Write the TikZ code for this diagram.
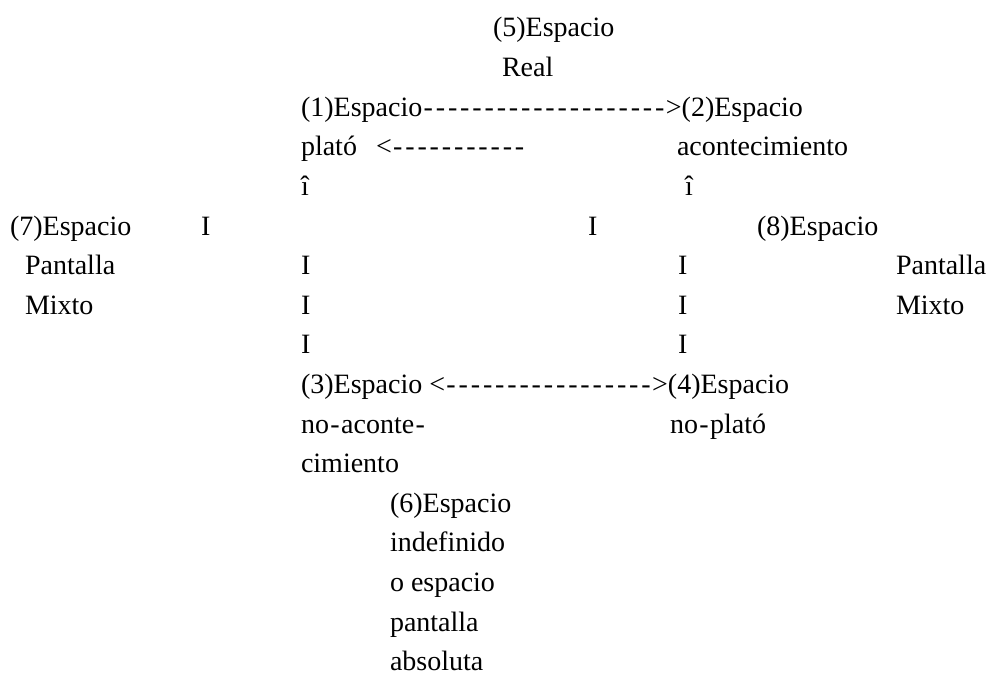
\documentclass[tikz,border=0pt]{standalone}
\usepackage{fontspec}
\setmainfont{Liberation Serif}
% hyphen set on a wider pitch, as in typewritten arrows
\newcommand\hy{\hbox to 0.435em{\hss-\hss}}
\ExplSyntaxOn
\cs_new:Npn \dashrun #1 { \prg_replicate:nn {#1} { \hy } }
\ExplSyntaxOff
\begin{document}
\begin{tikzpicture}[x=1pt,y=1pt,
  txt/.style={anchor=base west, inner sep=0pt, outer sep=0pt,
    font=\fontsize{28}{28}\selectfont}]
\useasboundingbox (0,0) rectangle (995,-677);
% top: real space
\node[txt] (n5)   at (493,-37)    {(5)Espacio};
\node[txt] (real) at (502,-76.6)  {Real};
% set space and event space
\node[txt] (n1)   at (301,-116.2) {(1)Espacio};
\node[txt] (a12)  at (n1.base east) {\dashrun{20}>};
\node[txt] (n2)   at (a12.base east) {(2)Espacio};
\node[txt] (plato) at (301,-155.8) {plató};
\node[txt] (a21)  at (376,-155.8) {<\dashrun{11}};
\node[txt] (acont) at (677,-155.8) {acontecimiento};
\node[txt] (h1)   at (301,-195.4) {î};
\node[txt] (h2)   at (685,-195.4) {î};
% side columns: mixed screen spaces
\node[txt] (n7)   at (10,-235)    {(7)Espacio};
\node[txt] (p7)   at (25,-274.6)  {Pantalla};
\node[txt] (m7)   at (25,-314.2)  {Mixto};
\node[txt] (n8)   at (757,-235)   {(8)Espacio};
\node[txt] (p8)   at (896,-274.6) {Pantalla};
\node[txt] (m8)   at (896,-314.2) {Mixto};
% vertical bars
\node[txt] (b0)   at (201,-235)   {I};
\node[txt] (b00)  at (588,-235)   {I};
\node[txt] (bl1)  at (301,-274.6) {I};
\node[txt] (bl2)  at (301,-314.2) {I};
\node[txt] (bl3)  at (301,-353.8) {I};
\node[txt] (br1)  at (678,-274.6) {I};
\node[txt] (br2)  at (678,-314.2) {I};
\node[txt] (br3)  at (678,-353.8) {I};
% non-event space and non-set space
\node[txt] (n3)   at (301,-393.4) {(3)Espacio};
\node[txt, xshift=7pt] (a34) at (n3.base east) {<\dashrun{17}>};
\node[txt] (n4)   at (a34.base east) {(4)Espacio};
\node[txt] (na1)  at (301,-433)   {no\hy aconte\hy};
\node[txt] (na2)  at (301,-472.6) {cimiento};
\node[txt] (np)   at (670,-433)   {no\hy plató};
% bottom: undefined space
\node[txt] (n6)   at (390,-512.2) {(6)Espacio};
\node[txt] (n6b)  at (390,-551.8) {indefinido};
\node[txt] (n6c)  at (390,-591.4) {o espacio};
\node[txt] (n6d)  at (390,-631)   {pantalla};
\node[txt] (n6e)  at (390,-670.6) {absoluta};
\end{tikzpicture}
\end{document}
